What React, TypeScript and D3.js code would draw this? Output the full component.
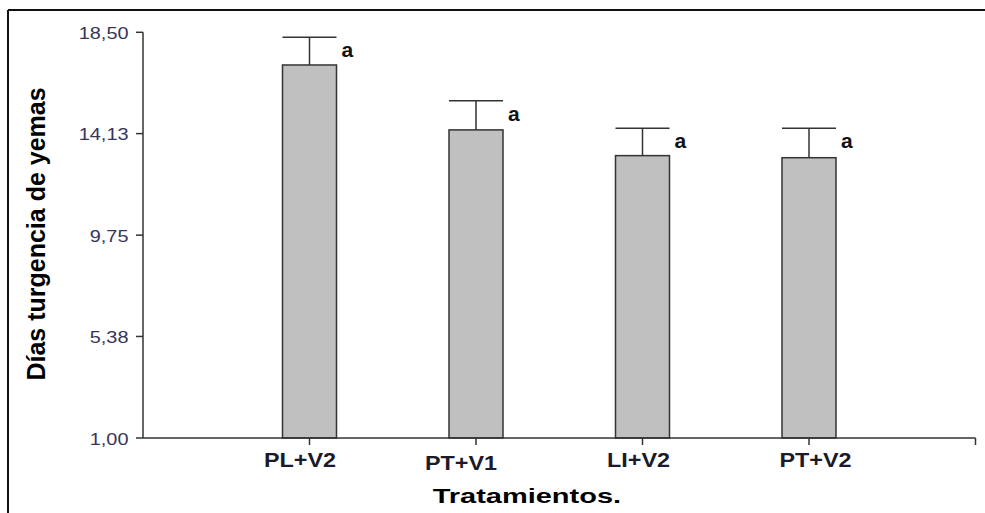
import React from "react";
import * as d3 from "d3";

const categories = ["PL+V2", "PT+V1", "LI+V2", "PT+V2"];
const means = [17.09, 14.29, 13.18, 13.09];
const upperErrors = [18.29, 15.55, 14.36, 14.36];
const letters = ["a", "a", "a", "a"];
const yTicks = [1.0, 5.38, 9.75, 14.13, 18.5];
const yTickLabels = ["1,00", "5,38", "9,75", "14,13", "18,50"];
const yTitle = "Días turgencia de yemas";
const xTitle = "Tratamientos.";

// layout nudges of the category labels (px), as placed in the original
const labelNudgeX = [-9.5, -15, -4, 6.5];
const labelNudgeY = [0, 2.5, 0, 0];

const W = 985;
const H = 513;

export default function App() {
  const x = d3.scaleLinear().domain([0, 5]).range([143, 975.5]);
  const y = d3.scaleLinear().domain([1, 18.5]).range([438, 32.3]);
  const barW = 54;
  const axisColor = "#333";
  const tickColor = "#38345a";
  const font = "'Liberation Sans', Arial, sans-serif";

  return (
    <svg
      width={W}
      height={H}
      style={{ position: "absolute", left: 0, top: 0, background: "#fff" }}
    >
      {/* frame */}
      <line x1={8} y1={10} x2={W} y2={10} stroke="#111" strokeWidth={2} />
      <line x1={8} y1={10} x2={8} y2={H} stroke="#111" strokeWidth={2} />

      {/* bars */}
      {categories.map((c, i) => {
        const cx = x(i + 1);
        return (
          <g key={c}>
            <line
              x1={cx}
              x2={cx}
              y1={y(means[i])}
              y2={y(upperErrors[i])}
              stroke={axisColor}
              strokeWidth={1.5}
            />
            <line
              x1={cx - barW / 2}
              x2={cx + barW / 2}
              y1={y(upperErrors[i])}
              y2={y(upperErrors[i])}
              stroke={axisColor}
              strokeWidth={1.5}
            />
            <rect
              x={cx - barW / 2}
              y={y(means[i])}
              width={barW}
              height={y(1) - y(means[i])}
              fill="#c0c0c0"
              stroke={axisColor}
              strokeWidth={1.5}
            />
            <text
              x={cx + barW / 2 + 5}
              y={y(upperErrors[i]) + 20}
              fontFamily={font}
              fontWeight="bold"
              fontSize={21}
              fill="#111"
            >
              {letters[i]}
            </text>
          </g>
        );
      })}

      {/* y axis */}
      <line x1={x(0)} x2={x(0)} y1={y(1)} y2={y(18.5)} stroke={axisColor} strokeWidth={1.5} />
      {yTicks.map((t, i) => (
        <g key={t}>
          <line x1={x(0) - 7} x2={x(0)} y1={y(t)} y2={y(t)} stroke={axisColor} strokeWidth={1.5} />
          <text
            transform={`translate(${x(0) - 14.5},${y(t) + 6.5}) scale(1.17,1)`}
            textAnchor="end"
            fontFamily={font}
            fontSize={17}
            fill={tickColor}
          >
            {yTickLabels[i]}
          </text>
        </g>
      ))}

      {/* x axis */}
      <line x1={x(0)} x2={x(5)} y1={y(1)} y2={y(1)} stroke={axisColor} strokeWidth={1.5} />
      <line x1={x(5)} x2={x(5)} y1={y(1)} y2={y(1) + 7} stroke={axisColor} strokeWidth={1.5} />
      {categories.map((c, i) => (
        <g key={c}>
          <line x1={x(i + 1)} x2={x(i + 1)} y1={y(1)} y2={y(1) + 7} stroke={axisColor} strokeWidth={1.5} />
          <text
            transform={`translate(${x(i + 1) + labelNudgeX[i]},${y(1) + 29 + labelNudgeY[i]}) scale(1.17,1)`}
            textAnchor="middle"
            fontFamily={font}
            fontWeight="bold"
            fontSize={20}
            fill="#1a1a2a"
          >
            {c}
          </text>
        </g>
      ))}

      {/* axis titles */}
      <text
        transform={`translate(432.7,503) scale(1.38,1)`}
        fontFamily={font}
        fontWeight="bold"
        fontSize={21}
        fill="#000"
      >
        {xTitle}
      </text>
      <text
        transform={`translate(45,234) rotate(-90)`}
        textAnchor="middle"
        fontFamily={font}
        fontWeight="bold"
        fontSize={25}
        fill="#000"
      >
        {yTitle}
      </text>
    </svg>
  );
}
